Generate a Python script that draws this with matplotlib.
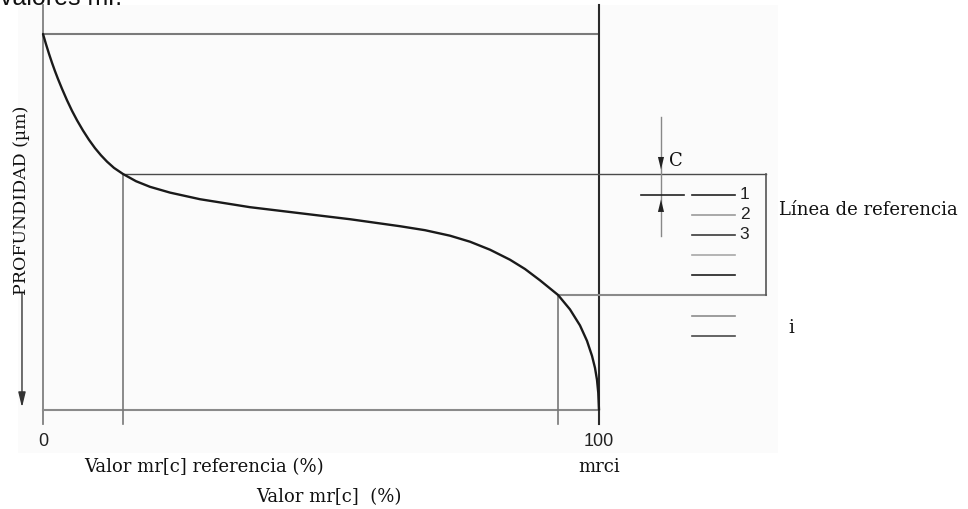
import matplotlib
matplotlib.use("Agg")
import matplotlib.pyplot as plt
from matplotlib.patches import Rectangle

# Bearing-area (Abbott-Firestone) curve: material ratio (%) vs depth (um)
mr = [0.00, 0.54, 1.08, 1.62, 2.16, 2.70, 3.42, 4.32, 5.22, 6.12, 7.19, 8.27,
      9.35, 10.43, 11.51, 12.77, 14.39, 16.73, 19.24, 22.84, 28.24, 37.23,
      46.22, 55.22, 64.21, 68.71, 73.20, 76.80, 80.40, 83.99, 86.69, 89.39,
      92.63, 94.78, 96.58, 97.84, 98.74, 99.28, 99.64, 99.87, 100.00]
depth = [0.000, 0.271, 0.527, 0.766, 0.989, 1.197, 1.457, 1.763, 2.043, 2.295,
         2.566, 2.814, 3.035, 3.226, 3.394, 3.561, 3.723, 3.915, 4.064, 4.218,
         4.394, 4.606, 4.766, 4.926, 5.112, 5.218, 5.364, 5.524, 5.737, 6.003,
         6.250, 6.551, 6.940, 7.324, 7.750, 8.160, 8.559, 8.878, 9.197, 9.543,
         10.000]

depth_max = 10.0
mr_ref, depth_ref = 14.39, 3.723    # reference line (c)
mrci, depth_i = 92.63, 6.94         # section level i

# Section levels drawn below the reference line
level_depths = [4.28, 4.81, 5.35, 5.88, 6.41, 7.50, 8.03]
level_colors = ["#222222", "#9a9a9a", "#3a3a3a", "#a8a8a8", "#1e1e1e", "#8c8c8c", "#4a4a4a"]
level_labels = ["1", "2", "3"]

x_ticks = [0, 100]
x_tick_labels = ["0", "100"]

SERIF = "DejaVu Serif"
SANS = "Liberation Sans"
HEAD = "-|>,head_length=0.9,head_width=0.22"

fig = plt.figure(figsize=(9.68, 5.10), dpi=100)
ax = fig.add_axes([0, 0, 1, 1])
ax.set_xlim(-7.734, 166.37)
ax.set_ylim(12.633, -0.931)
ax.axis("off")

# light panel behind the drawing
ax.add_patch(Rectangle((18 / 968, 1 - 454 / 510), 760 / 968, 448 / 510,
                       transform=ax.transAxes, facecolor="#fbfbfb",
                       edgecolor="none", zorder=0))

ax.text(0.0, 1 - 5 / 510, "valores mr.", transform=ax.transAxes,
        fontsize=18, family=SANS, color="#111111", va="baseline", ha="left")

top = -0.77      # upper end of the frame verticals
tick_end = 10.37  # verticals run slightly below the base line

# frame
ax.plot([0, 100], [0, 0], color="#7a7a7a", lw=1.5, solid_capstyle="butt")
ax.plot([0, 0], [top, tick_end], color="#808080", lw=1.3)
ax.plot([100, 100], [top, tick_end], color="#2a2a2a", lw=1.5)
ax.plot([0, 100], [depth_max, depth_max], color="#8a8a8a", lw=1.5)

# curve
ax.plot(mr, depth, color="#1a1a1a", lw=1.7, zorder=5, solid_capstyle="round",
        solid_joinstyle="round")

# reference and section guide lines
x_bracket = 130.04
ax.plot([mr_ref, x_bracket], [depth_ref, depth_ref], color="#4a4a4a", lw=1.0)
ax.plot([mr_ref, mr_ref], [depth_ref, tick_end], color="#777777", lw=1.2)
ax.plot([mrci, x_bracket], [depth_i, depth_i], color="#8a8a8a", lw=1.5)
ax.plot([mrci, mrci], [depth_i, tick_end], color="#777777", lw=1.2)
ax.plot([x_bracket, x_bracket], [depth_ref, depth_i], color="#555555", lw=1.2)

# C dimension arrows
xc = 111.15
ax.plot([xc, xc], [2.21, 5.37], color="#888888", lw=1.0)
ax.annotate("", xy=(xc, depth_ref - 0.12), xytext=(xc, 2.9),
            arrowprops=dict(arrowstyle=HEAD, color="#222222", lw=0.0,
                            mutation_scale=10, shrinkA=0, shrinkB=0))
ax.annotate("", xy=(xc, level_depths[0] + 0.12), xytext=(xc, 4.9),
            arrowprops=dict(arrowstyle=HEAD, color="#222222", lw=0.0,
                            mutation_scale=10, shrinkA=0, shrinkB=0))
ax.plot([107.55, 115.29], [level_depths[0], level_depths[0]], color="#222222", lw=1.2)
ax.text(112.6, 3.35, "C", family=SERIF, fontsize=13, color="#111111",
        ha="left", va="center")

# section lines
for d, col in zip(level_depths, level_colors):
    ax.plot([116.73, 124.46], [d, d], color=col, lw=1.2)
for d, lab in zip(level_depths, level_labels):
    ax.text(125.3, d - 0.04, lab, family=SANS, fontsize=12.5, color="#222222",
            ha="left", va="center")

ax.text(132.4, 4.66, "Línea de referencia", family=SERIF, fontsize=13,
        color="#111111", ha="left", va="center")
ax.text(134.0, 7.79, "i", family=SERIF, fontsize=13, color="#111111",
        ha="left", va="center")

# x labels
for xt, lab in zip(x_ticks, x_tick_labels):
    ax.text(xt, 10.80, lab, family=SANS, fontsize=13, color="#222222",
            ha="center", va="center")
ax.text(29.0, 11.49, "Valor mr[c] referencia (%)", family=SERIF, fontsize=13,
        color="#111111", ha="center", va="center")
ax.text(mrci + 7.4, 11.49, "mrci", family=SERIF, fontsize=13,
        color="#111111", ha="center", va="center")
ax.text(51.5, 12.29, "Valor mr[c]  (%)", family=SERIF, fontsize=13,
        color="#111111", ha="center", va="center")

# depth axis label with downward arrow
xl = -3.78
ax.text(xl, 4.40, "PROFUNDIDAD (\u00b5m)", family=SERIF, fontsize=12.5,
        color="#111111", rotation=90, ha="center", va="center")
ax.annotate("", xy=(xl, 9.93), xytext=(xl, 6.90),
            arrowprops=dict(arrowstyle=HEAD, color="#333333", lw=1.0,
                            mutation_scale=10, shrinkA=0, shrinkB=0))

fig.savefig("out.png", dpi=100)
